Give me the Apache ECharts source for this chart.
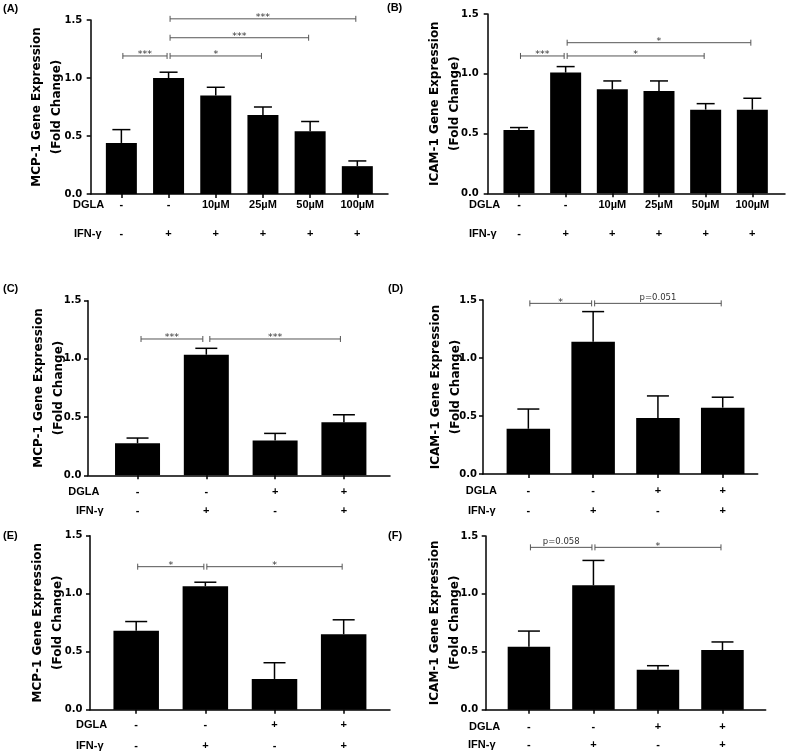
<!DOCTYPE html>
<html><head><meta charset="utf-8">
<script src="https://cdn.jsdelivr.net/npm/echarts@6/dist/echarts.min.js"></script>
<style>html,body{margin:0;padding:0;background:#fff}#c{width:788px;height:752px}</style>
</head><body><div id="c"></div><script>
// ---- data ----
const dglaSix = ['-', '-', '10µM', '25µM', '50µM', '100µM'];
const ifnSix = ['-', '+', '+', '+', '+', '+'];
const dglaFour = ['-', '-', '+', '+'];
const ifnFour = ['-', '+', '-', '+'];
const yTicks = [0, 0.5, 1.0, 1.5];

const meanA = [0.44, 1.00, 0.85, 0.68, 0.54, 0.24];
const semA  = [0.115, 0.05, 0.07, 0.07, 0.085, 0.045];
const meanB = [0.53, 1.01, 0.87, 0.855, 0.70, 0.70];
const semB  = [0.02, 0.05, 0.07, 0.085, 0.05, 0.095];
const meanC = [0.275, 1.036, 0.30, 0.455];
const semC  = [0.045, 0.055, 0.06, 0.065];
const meanD = [0.39, 1.14, 0.483, 0.572];
const semD  = [0.17, 0.26, 0.19, 0.09];
const meanE = [0.68, 1.064, 0.265, 0.65];
const semE  = [0.08, 0.035, 0.14, 0.125];
const meanF = [0.544, 1.074, 0.345, 0.515];
const semF  = [0.135, 0.215, 0.035, 0.07];

// significance brackets: [from index, to index, height, label]
const sigA = [[0, 1, 1.19, '***'], [1, 3, 1.19, '*'], [1, 4, 1.347, '***'], [1, 5, 1.51, '***']];
const sigB = [[0, 1, 1.149, '***'], [1, 4, 1.149, '*'], [1, 5, 1.26, '*']];
const sigC = [[0, 1, 1.171, '***'], [1, 3, 1.171, '***']];
const sigD = [[0, 1, 1.471, '*'], [1, 3, 1.471, 'p=0.051']];
const sigE = [[0, 1, 1.233, '*'], [1, 3, 1.233, '*']];
const sigF = [[0, 1, 1.402, 'p=0.058'], [1, 3, 1.402, '*']];

const titleMCP = ['MCP-1 Gene Expression', '(Fold Change)'];
const titleICAM = ['ICAM-1 Gene Expression', '(Fold Change)'];
const rowNames = ['DGLA', 'IFN-γ'];

// ---- layout ----
const panels = [
  {tag:'(A)', mean:meanA, sem:semA, sig:sigA, dgla:dglaSix, ifn:ifnSix, title:titleMCP,
   l:90.7, t:20, r:388, b:194, xmin:-0.65, xmax:5.65, bw:31, cap:9, inset:1.5, lm:5.5, row2:29, ng:23.5, ym:8.5,
   tagPos:[3, 9], rowPos:[[73, 205], [74, 234]]},
  {tag:'(B)', mean:meanB, sem:semB, sig:sigB, dgla:dglaSix, ifn:ifnSix, title:titleICAM,
   l:487.7, t:14, r:785, b:193.3, xmin:-0.67, xmax:5.70, bw:31, cap:9, inset:1.5, lm:6, row2:29.6, ng:22.5, ym:9,
   tagPos:[387, 8], rowPos:[[469, 204.7], [469, 234.3]]},
  {tag:'(C)', mean:meanC, sem:semC, sig:sigC, dgla:dglaFour, ifn:ifnFour, title:titleMCP,
   l:88, t:300.7, r:390, b:475.3, xmin:-0.72, xmax:3.67, bw:45, cap:11, inset:3.5, lm:11, row2:19.3, ng:19.5, ym:6.5,
   tagPos:[3, 289], rowPos:[[68.3, 491.7], [76, 511]]},
  {tag:'(D)', mean:meanD, sem:semD, sig:sigD, dgla:dglaFour, ifn:ifnFour, title:titleICAM,
   l:483, t:300, r:757.7, b:474, xmin:-0.70, xmax:3.54, bw:43.5, cap:11, inset:1.5, lm:11, row2:20.3, ng:17, ym:6,
   tagPos:[388, 289], rowPos:[[465.7, 490.7], [468, 511]]},
  {tag:'(E)', mean:meanE, sem:semE, sig:sigE, dgla:dglaFour, ifn:ifnFour, title:titleMCP,
   l:90, t:535.7, r:390, b:709.7, xmin:-0.668, xmax:3.67, bw:45.5, cap:11, inset:1.5, lm:10, row2:20.7, ng:22.2, ym:7.5,
   tagPos:[3, 536.5], rowPos:[[76, 725], [76, 745.7]]},
  {tag:'(F)', mean:meanF, sem:semF, sig:sigF, dgla:dglaFour, ifn:ifnFour, title:titleICAM,
   l:485.7, t:536, r:765.7, b:709.7, xmin:-0.67, xmax:3.67, bw:42.5, cap:11, inset:1.5, lm:11.5, row2:18.3, ng:20.5, ym:7.5,
   tagPos:[388, 536], rowPos:[[469, 726.7], [468, 745]]}
];

const grid = [], xAxis = [], yAxis = [], series = [], graphic = [];
const lblFont = {fontFamily:'Liberation Sans', fontWeight:'bold', fontSize:11, color:'#000'};

panels.forEach((p, k) => {
  const idx = p.mean.map((_, i) => i);
  grid.push({left:p.l, top:p.t, width:p.r - p.l, height:p.b - p.t, containLabel:false});
  xAxis.push({
    type:'value', gridIndex:k, min:p.xmin, max:p.xmax, position:'bottom',
    axisLine:{show:true, onZero:false, lineStyle:{color:'#000', width:1.5}},
    axisTick:{show:true, customValues:idx, length:4, lineStyle:{color:'#000', width:1.5}},
    axisLabel:{show:true, customValues:idx, margin:p.lm, formatter:v => p.dgla[Math.round(v)], ...lblFont},
    splitLine:{show:false}
  });
  xAxis.push({
    type:'value', gridIndex:k, min:p.xmin, max:p.xmax, position:'bottom', offset:p.row2,
    axisLine:{show:false}, axisTick:{show:false},
    axisLabel:{show:true, customValues:idx, margin:p.lm, formatter:v => p.ifn[Math.round(v)], ...lblFont},
    splitLine:{show:false}
  });
  yAxis.push({
    type:'value', gridIndex:k, min:0, max:1.5, interval:0.5, position:'left',
    axisLine:{show:true, onZero:false, lineStyle:{color:'#000', width:1.5}},
    axisTick:{show:true, length:4, lineStyle:{color:'#000', width:1.5}},
    axisLabel:{show:true, margin:p.ym, formatter:v => v.toFixed(1), fontFamily:'DejaVu Sans', fontWeight:'bold', fontSize:10, color:'#000'},
    splitLine:{show:false},
    name:p.title.join('\n'), nameLocation:'middle', nameRotate:90, nameGap:p.ng, nameMoveOverlap:false,
    nameTextStyle:{fontFamily:'DejaVu Sans', fontWeight:'bold', fontSize:12, lineHeight:20, color:'#000'}
  });
  series.push({
    type:'bar', xAxisIndex:2 * k, yAxisIndex:k, barWidth:p.bw,
    data:p.mean.map((v, i) => [i, v]),
    itemStyle:{color:'#000'}, animation:false, silent:true
  });
  series.push({
    type:'custom', xAxisIndex:2 * k, yAxisIndex:k, z:3, animation:false, silent:true,
    encode:{x:0, y:1},
    data:p.mean.map((v, i) => [i, v, p.sem[i]]),
    renderItem:(params, api) => {
      const x = api.value(0), m = api.value(1), s = api.value(2);
      const a = api.coord([x, m]), b = api.coord([x, m + s]);
      const st = {stroke:'#000', lineWidth:1.5};
      return {type:'group', children:[
        {type:'line', shape:{x1:a[0], y1:a[1], x2:b[0], y2:b[1]}, style:st},
        {type:'line', shape:{x1:b[0] - p.cap, y1:b[1], x2:b[0] + p.cap, y2:b[1]}, style:st}
      ]};
    }
  });
  series.push({
    type:'custom', xAxisIndex:2 * k, yAxisIndex:k, z:4, animation:false, silent:true, clip:false,
    encode:{x:[0, 1], y:2},
    data:p.sig.map(s => [s[0], s[1], s[2]]),
    renderItem:(params, api) => {
      const lab = p.sig[params.dataIndex][3];
      const a = api.coord([api.value(0), api.value(2)]);
      const b = api.coord([api.value(1), api.value(2)]);
      const x1 = a[0] + p.inset, x2 = b[0] - p.inset, y = a[1];
      const st = {stroke:'#555', lineWidth:1};
      const isP = lab.charAt(0) === 'p';
      return {type:'group', children:[
        {type:'line', shape:{x1:x1, y1:y, x2:x2, y2:y}, style:st},
        {type:'line', shape:{x1:x1, y1:y - 3, x2:x1, y2:y + 3}, style:st},
        {type:'line', shape:{x1:x2, y1:y - 3, x2:x2, y2:y + 3}, style:st},
        {type:'text', x:(x1 + x2) / 2, y:isP ? y - 1.5 : y - 1,
         style:{text:lab, fontFamily:'DejaVu Sans', fontSize:isP ? 8.5 : 9.5, fill:'#333',
                align:'center', verticalAlign:isP ? 'bottom' : 'middle'}}
      ]};
    }
  });
  graphic.push({type:'text', left:p.tagPos[0], top:p.tagPos[1] - 6,
    style:{text:p.tag, fontFamily:'Liberation Sans', fontWeight:'bold', fontSize:11, fill:'#000'}});
  rowNames.forEach((nm, j) => {
    graphic.push({type:'text', x:p.rowPos[j][0], y:p.rowPos[j][1],
      style:{text:nm, fontFamily:'Liberation Sans', fontWeight:'bold', fontSize:11, fill:'#000',
             align:'left', verticalAlign:'middle'}});
  });
});

const chart = echarts.init(document.getElementById('c'), null, {renderer:'canvas'});
chart.setOption({backgroundColor:'#fff', animation:false, grid, xAxis, yAxis, series, graphic});
</script></body></html>
